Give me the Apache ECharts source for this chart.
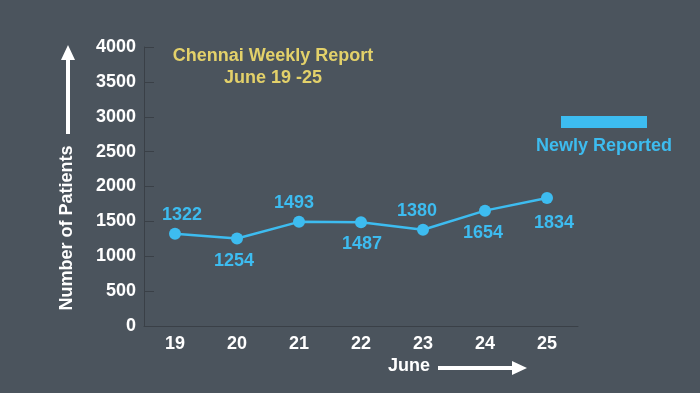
<!DOCTYPE html>
<html><head><meta charset="utf-8">
<script src="https://cdn.jsdelivr.net/npm/echarts@6/dist/echarts.min.js"></script>
<style>html,body{margin:0;padding:0;background:#4b545d}#c{width:700px;height:393px}</style>
</head><body><div id="c"></div>
<script>
var categories = ['19','20','21','22','23','24','25'];
var newlyReported = [1322,1254,1493,1487,1380,1654,1834];
var labelPos = ['top','bottom','top','bottom','top','bottom','bottom'];
var labelShiftX = [7,-3,-5,1,-6,-2,7];
var labelShiftY = [3,0,3,0,3,0,3];
var yTicks = [0,500,1000,1500,2000,2500,3000,3500,4000];

var FONT = 'Liberation Sans, Arial, sans-serif';
var BLUE = '#3dbcf0';
var chart = echarts.init(document.getElementById('c'));
chart.setOption({
  backgroundColor: '#4b545d',
  animation: false,
  title: {
    text: 'Chennai Weekly Report\nJune 19 -25',
    left: 268, top: 40, textAlign: 'center',
    textStyle: {color: '#e3d16a', fontSize: 18, fontWeight: 'bold', fontFamily: FONT, lineHeight: 22}
  },
  legend: {
    left: 556, top: 111, icon: 'rect', itemWidth: 86, itemHeight: 12,
    data: ['Newly Reported'], formatter: function(){return '';},
    textStyle: {color: BLUE}
  },
  grid: {left: 144, right: 122, top: 47, bottom: 67},
  xAxis: {
    type: 'category', data: categories, boundaryGap: true,
    axisLine: {lineStyle: {color: '#3a4047', width: 1}},
    axisTick: {inside: true, length: 6, lineStyle: {color: '#3a4047'}},
    axisLabel: {color: '#ffffff', fontSize: 18, fontWeight: 'bold', fontFamily: FONT, margin: 9}
  },
  yAxis: {
    type: 'value', min: 0, max: 4000, interval: 500,
    axisLine: {show: true, lineStyle: {color: '#3a4047'}},
    axisTick: {show: true, inside: true, length: 10, lineStyle: {color: '#3a4047'}},
    splitLine: {show: false},
    axisLabel: {color: '#ffffff', fontSize: 18, fontWeight: 'bold', fontFamily: FONT, margin: 8,
      formatter: function(v){return yTicks.indexOf(v) >= 0 ? String(v) : '';}}
  },
  series: [{
    name: 'Newly Reported', type: 'line', data: newlyReported.map(function(v,i){
      return {value: v, label: {position: labelPos[i], offset: [labelShiftX[i], labelShiftY[i]]}};
    }),
    symbol: 'circle', symbolSize: 12,
    lineStyle: {color: BLUE, width: 2.5},
    itemStyle: {color: BLUE},
    label: {show: true, color: BLUE, fontSize: 18, fontWeight: 'bold', fontFamily: FONT, distance: 7}
  }],
  graphic: [
    {type: 'text', x: 604, y: 146, style: {text: 'Newly Reported', fill: BLUE, font: 'bold 18px ' + FONT, align: 'center', verticalAlign: 'middle'}},
    {type: 'text', x: 67, y: 228, rotation: Math.PI/2, style: {text: 'Number of Patients', fill: '#ffffff', font: 'bold 18px ' + FONT, align: 'center', verticalAlign: 'middle'}},
    {type: 'line', shape: {x1: 68, y1: 134, x2: 68, y2: 58}, style: {stroke: '#ffffff', lineWidth: 4}},
    {type: 'polygon', shape: {points: [[61,60],[75,60],[68,45]]}, style: {fill: '#ffffff'}},
    {type: 'text', x: 409, y: 366, style: {text: 'June', fill: '#ffffff', font: 'bold 18px ' + FONT, align: 'center', verticalAlign: 'middle'}},
    {type: 'line', shape: {x1: 438, y1: 368, x2: 514, y2: 368}, style: {stroke: '#ffffff', lineWidth: 4}},
    {type: 'polygon', shape: {points: [[512,361],[512,375],[527,368]]}, style: {fill: '#ffffff'}}
  ]
});
</script></body></html>
